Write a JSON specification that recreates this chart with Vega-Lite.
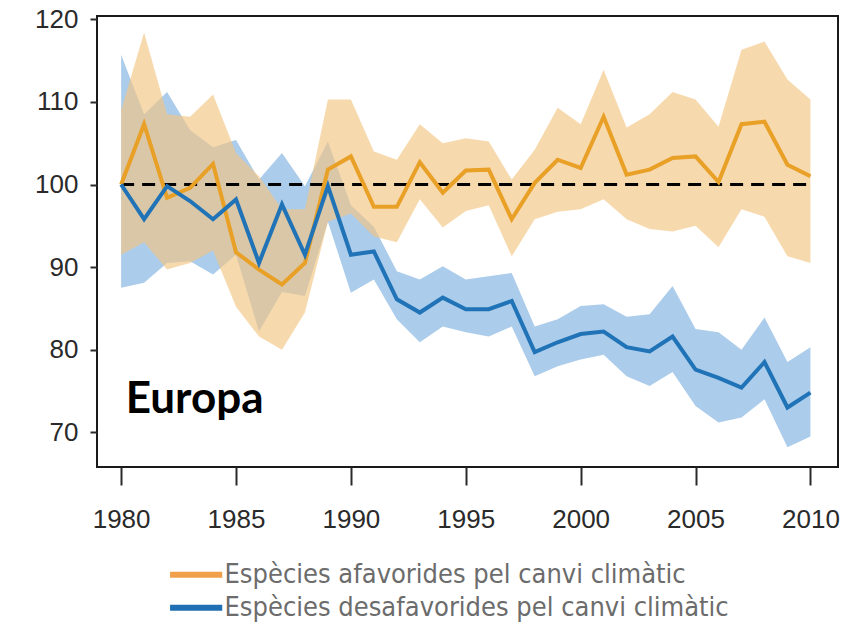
{
  "$schema": "https://vega.github.io/schema/vega-lite/v6.json",
  "autosize": "none",
  "width": 741,
  "height": 451,
  "padding": {"left": 97, "top": 16, "right": 9, "bottom": 161},
  "background": "white",
  "config": {
    "view": {"stroke": "#1a1a1a", "strokeWidth": 2},
    "axis": {
      "labelFont": "Liberation Sans",
      "labelFontSize": 26,
      "labelColor": "#2a2a2a",
      "tickColor": "#2a2a2a",
      "tickWidth": 2,
      "domain": false,
      "grid": false,
      "title": null
    }
  },
  "datasets": {
    "series": [
      {"any": 1980, "grup": "Espècies afavorides pel canvi climàtic", "index": 100.0, "inf": 91.5, "sup": 109.0},
      {"any": 1981, "grup": "Espècies afavorides pel canvi climàtic", "index": 107.3, "inf": 93.0, "sup": 118.4},
      {"any": 1982, "grup": "Espècies afavorides pel canvi climàtic", "index": 98.4, "inf": 89.7, "sup": 108.5},
      {"any": 1983, "grup": "Espècies afavorides pel canvi climàtic", "index": 99.6, "inf": 90.5, "sup": 108.2},
      {"any": 1984, "grup": "Espècies afavorides pel canvi climàtic", "index": 102.5, "inf": 92.0, "sup": 110.9},
      {"any": 1985, "grup": "Espècies afavorides pel canvi climàtic", "index": 91.8, "inf": 85.2, "sup": 103.8},
      {"any": 1986, "grup": "Espècies afavorides pel canvi climàtic", "index": 89.7, "inf": 81.6, "sup": 101.0},
      {"any": 1987, "grup": "Espècies afavorides pel canvi climàtic", "index": 87.9, "inf": 80.0, "sup": 97.0},
      {"any": 1988, "grup": "Espècies afavorides pel canvi climàtic", "index": 90.5, "inf": 84.5, "sup": 97.0},
      {"any": 1989, "grup": "Espècies afavorides pel canvi climàtic", "index": 101.8, "inf": 95.5, "sup": 110.3},
      {"any": 1990, "grup": "Espècies afavorides pel canvi climàtic", "index": 103.4, "inf": 96.5, "sup": 110.3},
      {"any": 1991, "grup": "Espècies afavorides pel canvi climàtic", "index": 97.3, "inf": 93.7, "sup": 104.0},
      {"any": 1992, "grup": "Espècies afavorides pel canvi climàtic", "index": 97.3, "inf": 93.0, "sup": 103.0},
      {"any": 1993, "grup": "Espècies afavorides pel canvi climàtic", "index": 102.7, "inf": 98.2, "sup": 107.3},
      {"any": 1994, "grup": "Espècies afavorides pel canvi climàtic", "index": 99.0, "inf": 94.8, "sup": 105.0},
      {"any": 1995, "grup": "Espècies afavorides pel canvi climàtic", "index": 101.7, "inf": 96.8, "sup": 105.6},
      {"any": 1996, "grup": "Espècies afavorides pel canvi climàtic", "index": 101.8, "inf": 97.5, "sup": 105.2},
      {"any": 1997, "grup": "Espècies afavorides pel canvi climàtic", "index": 95.8, "inf": 91.3, "sup": 100.6},
      {"any": 1998, "grup": "Espècies afavorides pel canvi climàtic", "index": 100.2, "inf": 95.8, "sup": 104.2},
      {"any": 1999, "grup": "Espècies afavorides pel canvi climàtic", "index": 103.0, "inf": 96.7, "sup": 109.3},
      {"any": 2000, "grup": "Espècies afavorides pel canvi climàtic", "index": 102.0, "inf": 97.0, "sup": 107.3},
      {"any": 2001, "grup": "Espècies afavorides pel canvi climàtic", "index": 108.2, "inf": 98.2, "sup": 113.9},
      {"any": 2002, "grup": "Espècies afavorides pel canvi climàtic", "index": 101.2, "inf": 95.8, "sup": 106.9},
      {"any": 2003, "grup": "Espècies afavorides pel canvi climàtic", "index": 101.8, "inf": 94.6, "sup": 108.5},
      {"any": 2004, "grup": "Espècies afavorides pel canvi climàtic", "index": 103.2, "inf": 94.3, "sup": 111.2},
      {"any": 2005, "grup": "Espècies afavorides pel canvi climàtic", "index": 103.4, "inf": 95.0, "sup": 110.3},
      {"any": 2006, "grup": "Espècies afavorides pel canvi climàtic", "index": 100.3, "inf": 92.4, "sup": 107.0},
      {"any": 2007, "grup": "Espècies afavorides pel canvi climàtic", "index": 107.3, "inf": 97.0, "sup": 116.3},
      {"any": 2008, "grup": "Espècies afavorides pel canvi climàtic", "index": 107.6, "inf": 96.1, "sup": 117.3},
      {"any": 2009, "grup": "Espècies afavorides pel canvi climàtic", "index": 102.4, "inf": 91.3, "sup": 112.7},
      {"any": 2010, "grup": "Espècies afavorides pel canvi climàtic", "index": 101.0, "inf": 90.5, "sup": 110.3},
      {"any": 1980, "grup": "Espècies desafavorides pel canvi climàtic", "index": 100.0, "inf": 87.5, "sup": 115.7},
      {"any": 1981, "grup": "Espècies desafavorides pel canvi climàtic", "index": 95.8, "inf": 88.1, "sup": 108.5},
      {"any": 1982, "grup": "Espècies desafavorides pel canvi climàtic", "index": 99.8, "inf": 90.5, "sup": 111.2},
      {"any": 1983, "grup": "Espècies desafavorides pel canvi climàtic", "index": 98.0, "inf": 90.7, "sup": 106.6},
      {"any": 1984, "grup": "Espècies desafavorides pel canvi climàtic", "index": 95.8, "inf": 89.1, "sup": 104.5},
      {"any": 1985, "grup": "Espècies desafavorides pel canvi climàtic", "index": 98.2, "inf": 91.5, "sup": 105.4},
      {"any": 1986, "grup": "Espècies desafavorides pel canvi climàtic", "index": 90.5, "inf": 82.2, "sup": 100.6},
      {"any": 1987, "grup": "Espècies desafavorides pel canvi climàtic", "index": 97.6, "inf": 87.0, "sup": 103.8},
      {"any": 1988, "grup": "Espècies desafavorides pel canvi climàtic", "index": 91.5, "inf": 86.5, "sup": 99.8},
      {"any": 1989, "grup": "Espècies desafavorides pel canvi climàtic", "index": 99.8, "inf": 95.5, "sup": 105.2},
      {"any": 1990, "grup": "Espècies desafavorides pel canvi climàtic", "index": 91.5, "inf": 86.9, "sup": 97.5},
      {"any": 1991, "grup": "Espècies desafavorides pel canvi climàtic", "index": 91.9, "inf": 88.5, "sup": 94.9},
      {"any": 1992, "grup": "Espècies desafavorides pel canvi climàtic", "index": 86.1, "inf": 83.7, "sup": 89.5},
      {"any": 1993, "grup": "Espècies desafavorides pel canvi climàtic", "index": 84.5, "inf": 80.9, "sup": 88.5},
      {"any": 1994, "grup": "Espècies desafavorides pel canvi climàtic", "index": 86.3, "inf": 82.8, "sup": 90.1},
      {"any": 1995, "grup": "Espècies desafavorides pel canvi climàtic", "index": 84.9, "inf": 82.1, "sup": 88.5},
      {"any": 1996, "grup": "Espècies desafavorides pel canvi climàtic", "index": 84.9, "inf": 81.6, "sup": 88.9},
      {"any": 1997, "grup": "Espècies desafavorides pel canvi climàtic", "index": 85.9, "inf": 82.8, "sup": 89.3},
      {"any": 1998, "grup": "Espècies desafavorides pel canvi climàtic", "index": 79.7, "inf": 76.8, "sup": 82.8},
      {"any": 1999, "grup": "Espècies desafavorides pel canvi climàtic", "index": 80.9, "inf": 78.0, "sup": 83.7},
      {"any": 2000, "grup": "Espècies desafavorides pel canvi climàtic", "index": 81.9, "inf": 78.8, "sup": 85.3},
      {"any": 2001, "grup": "Espècies desafavorides pel canvi climàtic", "index": 82.2, "inf": 79.4, "sup": 85.5},
      {"any": 2002, "grup": "Espècies desafavorides pel canvi climàtic", "index": 80.3, "inf": 76.8, "sup": 84.0},
      {"any": 2003, "grup": "Espècies desafavorides pel canvi climàtic", "index": 79.8, "inf": 75.6, "sup": 84.3},
      {"any": 2004, "grup": "Espècies desafavorides pel canvi climàtic", "index": 81.6, "inf": 77.3, "sup": 87.7},
      {"any": 2005, "grup": "Espècies desafavorides pel canvi climàtic", "index": 77.6, "inf": 73.2, "sup": 82.5},
      {"any": 2006, "grup": "Espècies desafavorides pel canvi climàtic", "index": 76.6, "inf": 71.2, "sup": 82.1},
      {"any": 2007, "grup": "Espècies desafavorides pel canvi climàtic", "index": 75.4, "inf": 71.8, "sup": 80.0},
      {"any": 2008, "grup": "Espècies desafavorides pel canvi climàtic", "index": 78.5, "inf": 74.0, "sup": 83.9},
      {"any": 2009, "grup": "Espècies desafavorides pel canvi climàtic", "index": 73.0, "inf": 68.2, "sup": 78.5},
      {"any": 2010, "grup": "Espècies desafavorides pel canvi climàtic", "index": 74.8, "inf": 69.5, "sup": 80.3}
    ]
  },
  "layer": [
    {
      "data": {"name": "series"},
      "transform": [{"filter": "datum.grup === 'Espècies desafavorides pel canvi climàtic'"}],
      "mark": {"type": "area", "fill": "#8fbbe3", "opacity": 0.75},
      "encoding": {
        "x": {
          "field": "any", "type": "quantitative",
          "scale": {"domain": [1978.95, 2011.2], "nice": false, "zero": false},
          "axis": {"values": [1980, 1985, 1990, 1995, 2000, 2005, 2010], "format": "d", "tickSize": 18, "labelPadding": 21}
        },
        "y": {
          "field": "inf", "type": "quantitative",
          "scale": {"domain": [65.8, 120.4], "nice": false, "zero": false},
          "axis": {"values": [70, 80, 90, 100, 110, 120], "tickSize": 7, "labelPadding": 12}
        },
        "y2": {"field": "sup"}
      }
    },
    {
      "data": {"name": "series"},
      "transform": [{"filter": "datum.grup === 'Espècies afavorides pel canvi climàtic'"}],
      "mark": {"type": "area", "fill": "#f2c583", "opacity": 0.65},
      "encoding": {
        "x": {"field": "any", "type": "quantitative"},
        "y": {"field": "inf", "type": "quantitative"},
        "y2": {"field": "sup"}
      }
    },
    {
      "data": {"values": [{}]},
      "mark": {"type": "rule", "stroke": "#000000", "strokeWidth": 3, "strokeDash": [13, 8]},
      "encoding": {
        "x": {"datum": 1980},
        "x2": {"datum": 2010},
        "y": {"datum": 100}
      }
    },
    {
      "data": {"name": "series"},
      "mark": {"type": "line", "strokeWidth": 4, "strokeJoin": "miter"},
      "encoding": {
        "x": {"field": "any", "type": "quantitative"},
        "y": {"field": "index", "type": "quantitative"},
        "stroke": {
          "field": "grup", "type": "nominal",
          "scale": {
            "domain": ["Espècies afavorides pel canvi climàtic", "Espècies desafavorides pel canvi climàtic"],
            "range": ["#e9a026", "#1f73b6"]
          },
          "legend": null
        },
        "order": {"field": "grup", "sort": "descending"}
      }
    },
    {
      "data": {"values": [{}]},
      "mark": {"type": "text", "text": "Europa", "font": "Lato", "fontWeight": "bold", "fontSize": 44, "align": "left", "baseline": "middle", "color": "#000000"},
      "encoding": {
        "x": {"datum": 1980.2},
        "y": {"datum": 73.9}
      }
    },
    {
      "description": "Key row for the favoured species",
      "data": {"values": [{}]},
      "mark": {"type": "rule", "stroke": "#f0a04a", "strokeWidth": 6},
      "encoding": {
        "x": {"datum": 1982.13},
        "x2": {"datum": 1984.4},
        "y": {"datum": 52.75}
      }
    },
    {
      "data": {"values": [{}]},
      "mark": {"type": "text", "text": "Espècies afavorides pel canvi climàtic", "font": "'Liberation Sans Narrow', 'DejaVu Sans Condensed', 'Liberation Sans', sans-serif", "fontSize": 27, "align": "left", "baseline": "middle", "color": "#6c6c6c"},
      "encoding": {
        "x": {"datum": 1984.5},
        "y": {"datum": 52.75}
      }
    },
    {
      "description": "Key row for the disfavoured species",
      "data": {"values": [{}]},
      "mark": {"type": "rule", "stroke": "#1f6fb4", "strokeWidth": 6},
      "encoding": {
        "x": {"datum": 1982.13},
        "x2": {"datum": 1984.4},
        "y": {"datum": 48.75}
      }
    },
    {
      "data": {"values": [{}]},
      "mark": {"type": "text", "text": "Espècies desafavorides pel canvi climàtic", "font": "'Liberation Sans Narrow', 'DejaVu Sans Condensed', 'Liberation Sans', sans-serif", "fontSize": 27, "align": "left", "baseline": "middle", "color": "#6c6c6c"},
      "encoding": {
        "x": {"datum": 1984.5},
        "y": {"datum": 48.75}
      }
    }
  ]
}
